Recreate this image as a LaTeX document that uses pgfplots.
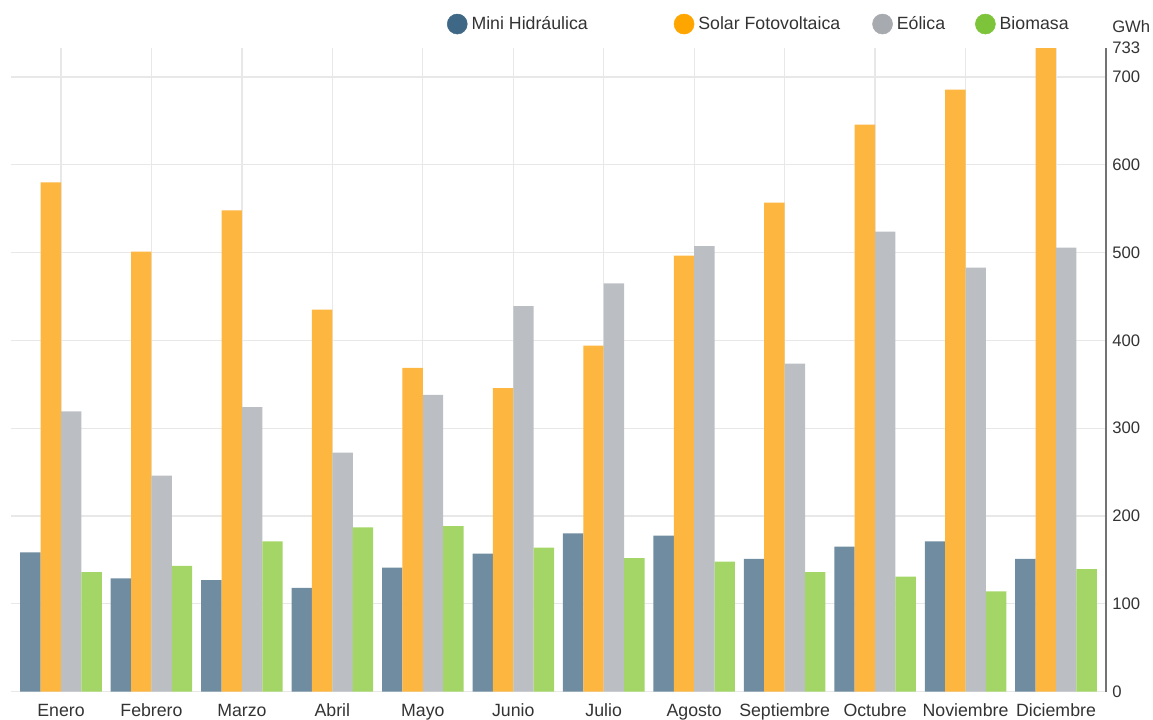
\documentclass[border=0pt]{standalone}
\usepackage{fontspec}
\setmainfont{Liberation Sans}
\usepackage{pgfplots}
\pgfplotsset{compat=1.18}
\definecolor{mhbar}{RGB}{111,140,160}
\definecolor{solbar}{RGB}{253,182,64}
\definecolor{eolbar}{RGB}{187,191,195}
\definecolor{biobar}{RGB}{163,214,102}
\definecolor{mhleg}{RGB}{62,104,134}
\definecolor{solleg}{RGB}{255,165,0}
\definecolor{eolleg}{RGB}{167,170,174}
\definecolor{bioleg}{RGB}{125,196,58}
\definecolor{txt}{RGB}{51,51,51}
\definecolor{gridc}{RGB}{232,232,232}
\begin{document}
\begin{tikzpicture}
\useasboundingbox (0,0) rectangle (864.75pt,539.25pt);
\begin{axis}[
  at={(8.25pt,20.625pt)}, anchor=south west,
  scale only axis, width=821.25pt, height=482.6pt,
  xmin=-0.553, xmax=11.553, ymin=0, ymax=733,
  axis x line*=bottom, axis y line*=right,
  x axis line style={draw=none},
  y axis line style={-, draw=black!55, line width=1.2pt},
  major tick length=0pt,
  xtick={0,...,11},
  xticklabels={Enero,Febrero,Marzo,Abril,Mayo,Junio,Julio,Agosto,Septiembre,Octubre,Noviembre,Diciembre},
  xticklabel style={font=\fontsize{13.3}{16}\selectfont, text=txt, anchor=north, inner sep=0pt, yshift=-9.3pt, text height=9.5pt, text depth=1pt},
  ytick={0,100,...,700},
  extra y ticks={733},
  extra y tick style={grid=none},
  /pgf/number format/assume math mode=true,
  yticklabel style={font=\fontsize{12.5}{15}\selectfont, text=txt, anchor=west, inner sep=0pt, xshift=4.5pt},
  xmajorgrids, ymajorgrids,
  major grid style={draw=gridc, line width=0.9pt},
  legend columns=4,
  legend style={at={(axis description cs:0.4073,1)}, anchor=west, xshift=-7.5pt, yshift=18pt,
    draw=none, fill=none, inner sep=0pt, outer sep=0pt,
    font=\fontsize{13.3}{16}\selectfont, text=txt,
    /tikz/every odd column/.style={column sep=3pt},
    /tikz/every even column/.style={column sep=0pt},
    nodes={inner sep=0pt}},
  clip=false,
]
\addplot[ybar, bar width=0.2255, bar shift=-0.338, fill=mhbar, draw=none, forget plot] coordinates {
(0,158.5) (1,129) (2,127) (3,118) (4,141) (5,157) (6,180) (7,177.5) (8,151) (9,165) (10,171) (11,151)};
\addplot[ybar, bar width=0.2255, bar shift=-0.1128, fill=solbar, draw=none, forget plot] coordinates {
(0,580) (1,501) (2,548) (3,435) (4,368.6) (5,345.5) (6,394) (7,496.5) (8,556.8) (9,645.7) (10,685.6) (11,733)};
\addplot[ybar, bar width=0.2255, bar shift=0.1128, fill=eolbar, draw=none, forget plot] coordinates {
(0,319) (1,246) (2,324) (3,272) (4,338) (5,439) (6,465) (7,507.4) (8,373.4) (9,523.8) (10,482.8) (11,505.5)};
\addplot[ybar, bar width=0.2255, bar shift=0.338, fill=biobar, draw=none, forget plot] coordinates {
(0,136) (1,143) (2,171) (3,187) (4,188.5) (5,164) (6,152) (7,148) (8,136) (9,131) (10,114) (11,139.5)};
\addlegendimage{legend image code/.code={\fill[mhleg] (7.5pt,0pt) circle (7.5pt);}}
\addlegendentry{Mini Hidráulica\kern64.5pt}
\addlegendimage{legend image code/.code={\fill[solleg] (7.5pt,0pt) circle (7.5pt);}}
\addlegendentry{Solar Fotovoltaica\kern24pt}
\addlegendimage{legend image code/.code={\fill[eolleg] (7.5pt,0pt) circle (7.5pt);}}
\addlegendentry{Eólica\kern22.5pt}
\addlegendimage{legend image code/.code={\fill[bioleg] (7.5pt,0pt) circle (7.5pt);}}
\addlegendentry{Biomasa}
\node[anchor=west, inner sep=0pt, font=\fontsize{12.5}{15}\selectfont, text=txt] at (rel axis cs:1,1) [xshift=4.5pt, yshift=15.75pt] {GWh};
\end{axis}
\end{tikzpicture}
\end{document}
